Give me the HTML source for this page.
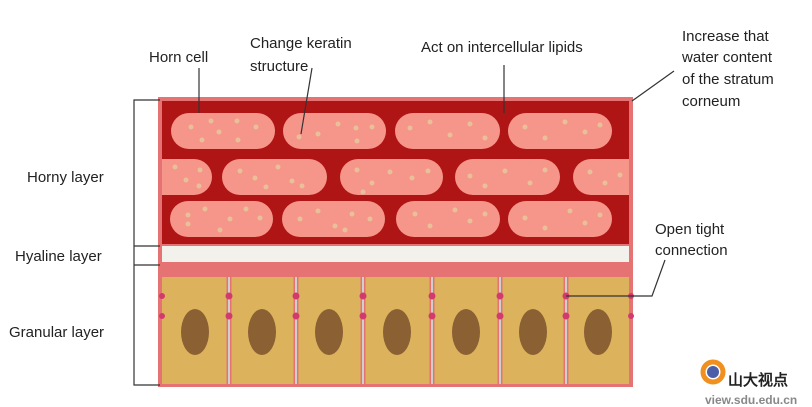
<!DOCTYPE html>
<html><head><style>body{margin:0;background:#fff}svg{display:block}text{font-family:"Liberation Sans",Arial,sans-serif;font-size:15px;fill:#222}</style></head><body>
<svg width="812" height="407" viewBox="0 0 812 407">
<defs><clipPath id="c"><rect x="162" y="101" width="467" height="143"/></clipPath></defs>
<rect x="158" y="97" width="475" height="290" fill="#e57373"/>
<rect x="162" y="101" width="467" height="143" fill="#b01515"/>
<g fill="#f6968a" clip-path="url(#c)">
<rect x="171" y="113" width="104" height="36" rx="18"/><rect x="283" y="113" width="103" height="36" rx="18"/><rect x="395" y="113" width="105" height="36" rx="18"/><rect x="508" y="113" width="104" height="36" rx="18"/>
<rect x="140" y="159" width="72" height="36" rx="18"/><rect x="222" y="159" width="105" height="36" rx="18"/><rect x="340" y="159" width="103" height="36" rx="18"/><rect x="455" y="159" width="105" height="36" rx="18"/><rect x="573" y="159" width="80" height="36" rx="18"/>
<rect x="170" y="201" width="103" height="36" rx="18"/><rect x="282" y="201" width="103" height="36" rx="18"/><rect x="396" y="201" width="104" height="36" rx="18"/><rect x="508" y="201" width="104" height="36" rx="18"/>
</g>
<g fill="#e8c09a">
<circle cx="191" cy="127" r="2.5"/><circle cx="211" cy="121" r="2.5"/><circle cx="219" cy="132" r="2.5"/><circle cx="237" cy="121" r="2.5"/><circle cx="256" cy="127" r="2.5"/><circle cx="202" cy="140" r="2.5"/><circle cx="238" cy="140" r="2.5"/>
<circle cx="299" cy="137" r="2.5"/><circle cx="318" cy="134" r="2.5"/><circle cx="338" cy="124" r="2.5"/><circle cx="356" cy="128" r="2.5"/><circle cx="372" cy="127" r="2.5"/><circle cx="357" cy="141" r="2.5"/>
<circle cx="410" cy="128" r="2.5"/><circle cx="430" cy="122" r="2.5"/><circle cx="450" cy="135" r="2.5"/><circle cx="470" cy="124" r="2.5"/><circle cx="485" cy="138" r="2.5"/>
<circle cx="525" cy="127" r="2.5"/><circle cx="545" cy="138" r="2.5"/><circle cx="565" cy="122" r="2.5"/><circle cx="585" cy="132" r="2.5"/><circle cx="600" cy="125" r="2.5"/>
<circle cx="175" cy="167" r="2.5"/><circle cx="186" cy="180" r="2.5"/><circle cx="200" cy="170" r="2.5"/><circle cx="199" cy="186" r="2.5"/>
<circle cx="240" cy="171" r="2.5"/><circle cx="255" cy="178" r="2.5"/><circle cx="278" cy="167" r="2.5"/><circle cx="292" cy="181" r="2.5"/><circle cx="302" cy="186" r="2.5"/><circle cx="266" cy="187" r="2.5"/>
<circle cx="357" cy="170" r="2.5"/><circle cx="372" cy="183" r="2.5"/><circle cx="390" cy="172" r="2.5"/><circle cx="412" cy="178" r="2.5"/><circle cx="428" cy="171" r="2.5"/><circle cx="363" cy="192" r="2.5"/>
<circle cx="470" cy="176" r="2.5"/><circle cx="485" cy="186" r="2.5"/><circle cx="505" cy="171" r="2.5"/><circle cx="530" cy="183" r="2.5"/><circle cx="545" cy="170" r="2.5"/>
<circle cx="590" cy="172" r="2.5"/><circle cx="605" cy="183" r="2.5"/><circle cx="620" cy="175" r="2.5"/>
<circle cx="188" cy="215" r="2.5"/><circle cx="205" cy="209" r="2.5"/><circle cx="230" cy="219" r="2.5"/><circle cx="246" cy="209" r="2.5"/><circle cx="260" cy="218" r="2.5"/><circle cx="220" cy="230" r="2.5"/><circle cx="188" cy="224" r="2.5"/>
<circle cx="300" cy="219" r="2.5"/><circle cx="318" cy="211" r="2.5"/><circle cx="335" cy="226" r="2.5"/><circle cx="352" cy="214" r="2.5"/><circle cx="370" cy="219" r="2.5"/><circle cx="345" cy="230" r="2.5"/>
<circle cx="415" cy="214" r="2.5"/><circle cx="430" cy="226" r="2.5"/><circle cx="455" cy="210" r="2.5"/><circle cx="470" cy="221" r="2.5"/><circle cx="485" cy="214" r="2.5"/>
<circle cx="525" cy="218" r="2.5"/><circle cx="545" cy="228" r="2.5"/><circle cx="570" cy="211" r="2.5"/><circle cx="585" cy="223" r="2.5"/><circle cx="600" cy="215" r="2.5"/>
</g>
<rect x="162" y="246" width="467" height="16" fill="#f3f1ec"/>
<rect x="162" y="277" width="467" height="107" fill="#dcb35c"/>
<g stroke="#e57373" stroke-width="5"><line x1="229" y1="277" x2="229" y2="384"/><line x1="296" y1="277" x2="296" y2="384"/><line x1="363" y1="277" x2="363" y2="384"/><line x1="432" y1="277" x2="432" y2="384"/><line x1="500" y1="277" x2="500" y2="384"/><line x1="566" y1="277" x2="566" y2="384"/></g>
<g stroke="#cfcfcf" stroke-width="2"><line x1="229" y1="277" x2="229" y2="384"/><line x1="296" y1="277" x2="296" y2="384"/><line x1="363" y1="277" x2="363" y2="384"/><line x1="432" y1="277" x2="432" y2="384"/><line x1="500" y1="277" x2="500" y2="384"/><line x1="566" y1="277" x2="566" y2="384"/></g>
<g fill="#d23a6e">
<circle cx="229" cy="296" r="3.5"/><circle cx="229" cy="316" r="3.5"/><circle cx="296" cy="296" r="3.5"/><circle cx="296" cy="316" r="3.5"/><circle cx="363" cy="296" r="3.5"/><circle cx="363" cy="316" r="3.5"/><circle cx="432" cy="296" r="3.5"/><circle cx="432" cy="316" r="3.5"/><circle cx="500" cy="296" r="3.5"/><circle cx="500" cy="316" r="3.5"/><circle cx="566" cy="296" r="3.5"/><circle cx="566" cy="316" r="3.5"/><circle cx="162" cy="296" r="3"/><circle cx="162" cy="316" r="3"/><circle cx="631" cy="296" r="3"/><circle cx="631" cy="316" r="3"/>
</g>
<g fill="#8b6033">
<ellipse cx="195" cy="332" rx="14" ry="23"/><ellipse cx="262" cy="332" rx="14" ry="23"/><ellipse cx="329" cy="332" rx="14" ry="23"/><ellipse cx="397" cy="332" rx="14" ry="23"/><ellipse cx="466" cy="332" rx="14" ry="23"/><ellipse cx="533" cy="332" rx="14" ry="23"/><ellipse cx="598" cy="332" rx="14" ry="23"/>
</g>
<g stroke="#333" stroke-width="1.2" fill="none">
<polyline points="160,100 134,100 134,385 160,385"/>
<line x1="134" y1="246" x2="160" y2="246"/><line x1="134" y1="265" x2="160" y2="265"/>
<line x1="199" y1="68" x2="199" y2="113"/>
<line x1="312" y1="68" x2="301" y2="134"/>
<line x1="504" y1="65" x2="504" y2="113"/>
<line x1="674" y1="71" x2="632" y2="101"/>
<polyline points="566,296 652,296 665,260"/>
</g>
<text x="149" y="62">Horn cell</text>
<text x="250" y="48">Change keratin</text><text x="250" y="71">structure</text>
<text x="421" y="52">Act on intercellular lipids</text>
<text x="682" y="41">Increase that</text><text x="682" y="62">water content</text><text x="682" y="84">of the stratum</text><text x="682" y="106">corneum</text>
<text x="27" y="182">Horny layer</text>
<text x="15" y="261">Hyaline layer</text>
<text x="9" y="337">Granular layer</text>
<text x="655" y="234">Open tight</text><text x="655" y="255">connection</text>
<circle cx="713" cy="372" r="10" fill="none" stroke="#f0901e" stroke-width="5"/><circle cx="713" cy="372" r="6" fill="#4a5fa8"/>
<text x="728" y="385" style="font-size:15px;font-weight:bold;fill:#222">山大视点</text>
<text x="705" y="404" style="font-size:12px;font-weight:bold;fill:#888">view.sdu.edu.cn</text>
</svg>
</body></html>
